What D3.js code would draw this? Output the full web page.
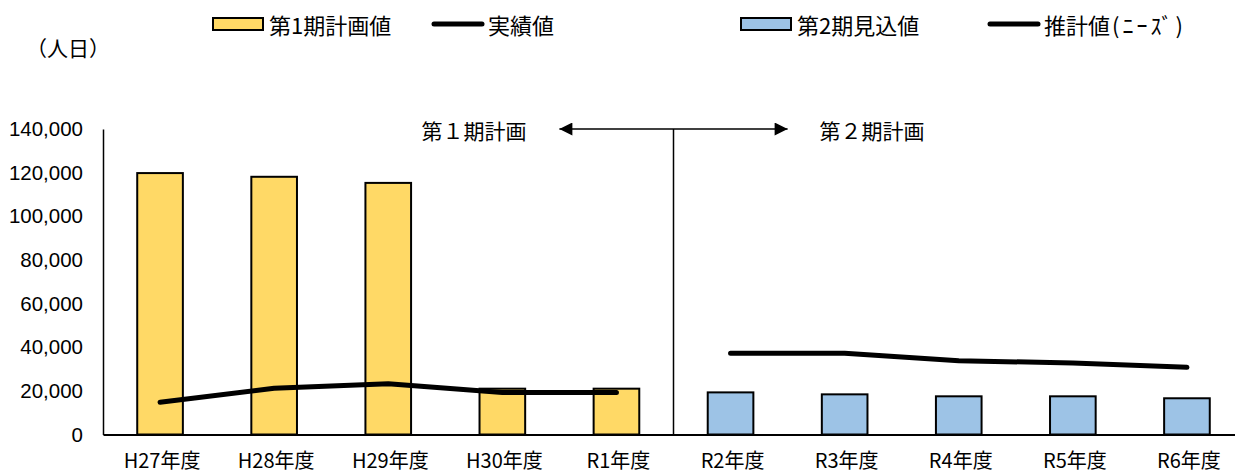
<!DOCTYPE html>
<html>
<head>
<meta charset="utf-8">
<script src="https://cdn.jsdelivr.net/npm/d3@7"></script>
<style>
  html, body { margin: 0; padding: 0; background: #fff; }
  svg { display: block; }
  text { font-family: "Noto Sans CJK JP", "Liberation Sans", sans-serif; fill: #000; }
  .num text { font-family: "Liberation Sans", Arial, sans-serif; }
</style>
</head>
<body>
<svg id="chart" width="1235" height="474"></svg>
<script>
// ---- data ----
const categories = ["H27年度", "H28年度", "H29年度", "H30年度", "R1年度", "R2年度", "R3年度", "R4年度", "R5年度", "R6年度"];
const plan1Cats = ["H27年度", "H28年度", "H29年度", "H30年度", "R1年度"];
const plan1Values = [119800, 118100, 115300, 21000, 21000];      // 第1期計画値
const actualValues = [14800, 21200, 23300, 19300, 19300];        // 実績値
const plan2Cats = ["R2年度", "R3年度", "R4年度", "R5年度", "R6年度"];
const plan2Values = [19300, 18400, 17500, 17500, 16600];         // 第2期見込値
const estimateValues = [37200, 37200, 33800, 32800, 30800];      // 推計値（ニーズ）
const yTicks = [0, 20000, 40000, 60000, 80000, 100000, 120000, 140000];
const legendLabels = ["第1期計画値", "実績値", "第2期見込値", "推計値", "(ﾆｰｽﾞ)"];
const unitLabel = "（人日）";
const periodLabels = ["第１期計画", "第２期計画"];

const yellow = "#FFD966", blue = "#9DC3E6";

const svg = d3.select("#chart");
const pLeft = 103, pRight = 1244, pTop = 129, pBottom = 434.5;

const x = d3.scaleBand().domain(categories).range([pLeft, pRight]).paddingInner(0.6).paddingOuter(0.3);
const y = d3.scaleLinear().domain([0, 140000]).range([pBottom, pTop]);

// y axis
const yAxis = svg.append("g").attr("class", "num")
  .attr("transform", `translate(${pLeft},0)`)
  .call(d3.axisLeft(y).tickValues(yTicks).tickFormat(d3.format(",")).tickSize(0).tickPadding(20));
yAxis.select(".domain").attr("stroke", "#000").attr("stroke-width", 1.5);
yAxis.selectAll("text").attr("font-size", 20.5);

// bars
svg.append("g").selectAll("rect").data(plan1Values).join("rect")
  .attr("x", (d, i) => x(plan1Cats[i]))
  .attr("width", x.bandwidth())
  .attr("y", d => y(d))
  .attr("height", d => y(0) - y(d))
  .attr("fill", yellow).attr("stroke", "#000").attr("stroke-width", 2);
svg.append("g").selectAll("rect").data(plan2Values).join("rect")
  .attr("x", (d, i) => x(plan2Cats[i]))
  .attr("width", x.bandwidth())
  .attr("y", d => y(d))
  .attr("height", d => y(0) - y(d))
  .attr("fill", blue).attr("stroke", "#000").attr("stroke-width", 2);

// x axis
const xAxis = svg.append("g")
  .attr("transform", `translate(0,${pBottom})`)
  .call(d3.axisBottom(x).tickSize(0).tickPadding(19).tickSizeOuter(0));
xAxis.select(".domain").attr("stroke", "#000").attr("stroke-width", 2);
xAxis.selectAll("text").attr("font-size", 20).attr("font-family", "Noto Sans CJK JP").attr("dx", 2);

// lines
const lineGen = cats => d3.line().x((d, i) => x(cats[i]) + x.bandwidth() / 2).y(d => y(d));
svg.append("path").datum(actualValues).attr("d", lineGen(plan1Cats))
  .attr("fill", "none").attr("stroke", "#000").attr("stroke-width", 5)
  .attr("stroke-linecap", "round").attr("stroke-linejoin", "round");
svg.append("path").datum(estimateValues).attr("d", lineGen(plan2Cats))
  .attr("fill", "none").attr("stroke", "#000").attr("stroke-width", 5)
  .attr("stroke-linecap", "round").attr("stroke-linejoin", "round");

// period divider and arrow
const divX = x(plan2Cats[0]) - x.step() * x.paddingInner() / 2;
svg.append("line").attr("x1", divX).attr("x2", divX).attr("y1", pTop).attr("y2", pBottom)
  .attr("stroke", "#000").attr("stroke-width", 1.5);
const defs = svg.append("defs");
defs.append("marker").attr("id", "ah").attr("viewBox", "0 0 10 10")
  .attr("refX", 10).attr("refY", 5).attr("markerWidth", 17).attr("markerHeight", 13)
  .attr("markerUnits", "userSpaceOnUse").attr("orient", "auto-start-reverse")
  .append("path").attr("d", "M0,0L10,5L0,10Z").attr("fill", "#000");
const ax1 = divX - x.step(), ax2 = divX + x.step();
svg.append("line").attr("x1", ax1).attr("x2", ax2).attr("y1", pTop).attr("y2", pTop)
  .attr("stroke", "#000").attr("stroke-width", 1.5)
  .attr("marker-start", "url(#ah)").attr("marker-end", "url(#ah)");
svg.append("text").attr("x", ax1 - 33).attr("y", pTop + 1).attr("text-anchor", "end")
  .attr("dominant-baseline", "central").attr("font-size", 21).text(periodLabels[0]);
svg.append("text").attr("x", ax2 + 32).attr("y", pTop + 1).attr("text-anchor", "start")
  .attr("dominant-baseline", "central").attr("font-size", 21).text(periodLabels[1]);

// unit label
svg.append("text").attr("x", 26).attr("y", 47).attr("dominant-baseline", "central")
  .attr("font-size", 21).text(unitLabel);

// legend
const ly = 24;
const legendItems = [
  { type: "rect", fill: yellow, x: 213, label: legendLabels[0] },
  { type: "line", x: 432, label: legendLabels[1] },
  { type: "rect", fill: blue, x: 741, label: legendLabels[2] },
  { type: "line", x: 988, label: legendLabels[3], extra: legendLabels[4] }
];
const lg = svg.append("g");
legendItems.forEach(it => {
  if (it.type === "rect") {
    lg.append("rect").attr("x", it.x).attr("y", ly - 6).attr("width", 50).attr("height", 12)
      .attr("fill", it.fill).attr("stroke", "#000").attr("stroke-width", 2);
  } else {
    lg.append("line").attr("x1", it.x + 2).attr("x2", it.x + 50).attr("y1", ly).attr("y2", ly)
      .attr("stroke", "#000").attr("stroke-width", 5).attr("stroke-linecap", "round");
  }
  const t = lg.append("text").attr("x", it.x + 56).attr("y", ly).attr("dominant-baseline", "central")
    .attr("font-size", 22).text(it.label);
  if (it.extra) {
    t.append("tspan").attr("dx", 2).attr("letter-spacing", 3).text(it.extra);
  }
});
</script>
</body>
</html>
